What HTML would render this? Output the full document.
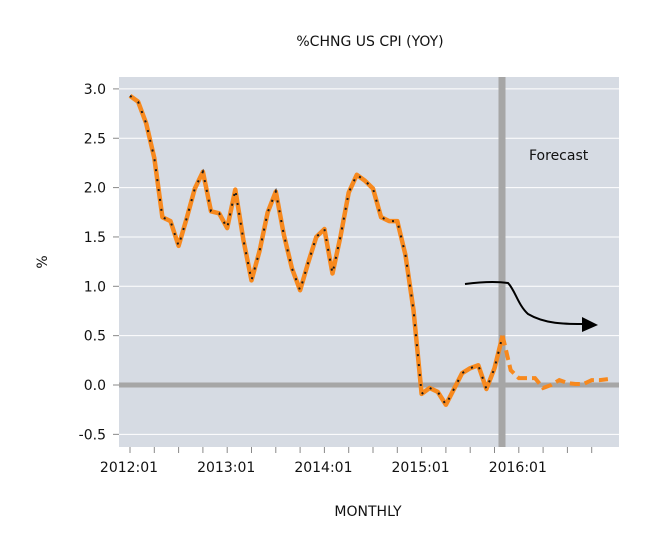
<!DOCTYPE html>
<html><head><meta charset="utf-8"><style>
body{margin:0;background:#fff;font-family:"DejaVu Sans","Liberation Sans",sans-serif;}
svg text{font-family:"DejaVu Sans","Liberation Sans",sans-serif;}
</style></head><body>
<svg id="c" width="647" height="534">
<text x="370" y="46" text-anchor="middle" font-size="14" fill="#111">%CHNG US CPI (YOY)</text>
<rect x="119" y="77" width="500" height="370" fill="#d6dbe3"/>
<g id="grid"></g><g id="axes"></g><g id="series"></g>
<text x="529" y="160" font-size="14" fill="#111">Forecast</text>
<path d="M465,284 C480,282 495,281 508,283 C515,290 518,305 528,314 C545,324 565,324 582,324" fill="none" stroke="#000" stroke-width="2"/>
<polygon points="582,317 598,325 582,332" fill="#000"/>
<text x="368" y="516" text-anchor="middle" font-size="14" fill="#111">MONTHLY</text>
<text x="0" y="0" transform="translate(47,262) rotate(-90)" text-anchor="middle" font-size="14" fill="#111">%</text>
</svg>
<script>
const actual=[2.93,2.87,2.65,2.30,1.70,1.66,1.41,1.69,1.99,2.16,1.76,1.74,
1.59,1.98,1.47,1.06,1.36,1.75,1.96,1.52,1.18,0.96,1.24,1.50,
1.58,1.13,1.51,1.95,2.13,2.07,1.99,1.70,1.66,1.66,1.32,0.76,
-0.09,-0.03,-0.07,-0.20,-0.04,0.12,0.17,0.20,-0.04,0.17,0.50];
const forecast=[0.50,0.15,0.07,0.07,0.07,-0.03,0.00,0.05,0.02,0.01,0.01,0.05,0.05,0.06];
const yTicks=[3.0,2.5,2.0,1.5,1.0,0.5,0.0,-0.5];
const xLabels=["2012:01","2013:01","2014:01","2015:01","2016:01"];
const NS="http://www.w3.org/2000/svg";
const X=i=>130+i*8.1;
const Y=v=>385-v*98.7;
function mk(t,a,p){const e=document.createElementNS(NS,t);for(const k in a)e.setAttribute(k,a[k]);document.getElementById(p).appendChild(e);return e;}
yTicks.forEach(v=>{
 const g=mk('line',{x1:119,x2:619,y1:Y(v),y2:Y(v),stroke:'#fff','stroke-width':1},'grid');
 
 
 const t=mk('line',{x1:113,x2:119,y1:Y(v),y2:Y(v),stroke:'#888'},'axes');
 
 
 const l=mk('text',{x:106,y:Y(v)+5,'text-anchor':'end','font-size':14,fill:'#111'},'axes');
 l.textContent=v.toFixed(1);
 
 
});
const z=mk('line',{x1:119,x2:619,y1:Y(0),y2:Y(0),stroke:'#a6a6a6','stroke-width':5},'grid');


const vb=mk('line',{x1:502,x2:502,y1:77,y2:447,stroke:'#a6a6a6','stroke-width':7},'grid');


for(let i=0;i<=57;i+=3){
 const t=mk('line',{x1:X(i),x2:X(i),y1:447,y2:453,stroke:'#888'},'axes');
 
 
}
xLabels.forEach((s,k)=>{
 const l=mk('text',{x:X(k*12)-1,y:472,'text-anchor':'middle','font-size':14,fill:'#111'},'axes');
 l.textContent=s;
 
 
});
const pa=actual.map((v,i)=>X(i)+','+Y(v)).join(' ');
const pf=forecast.map((v,i)=>X(i+actual.length-1)+','+Y(v)).join(' ');
const f=mk('polyline',{points:pf,fill:'none',stroke:'#f7891e','stroke-width':4,'stroke-dasharray':'10,5'},'series');


const a=mk('polyline',{points:pa,fill:'none',stroke:'#f7891e','stroke-width':4.5,'stroke-linejoin':'round'},'series');


const d=mk('polyline',{points:pa,fill:'none',stroke:'#1a1a1a','stroke-width':2,'stroke-dasharray':'2,8'},'series');


</script>
</body></html>
